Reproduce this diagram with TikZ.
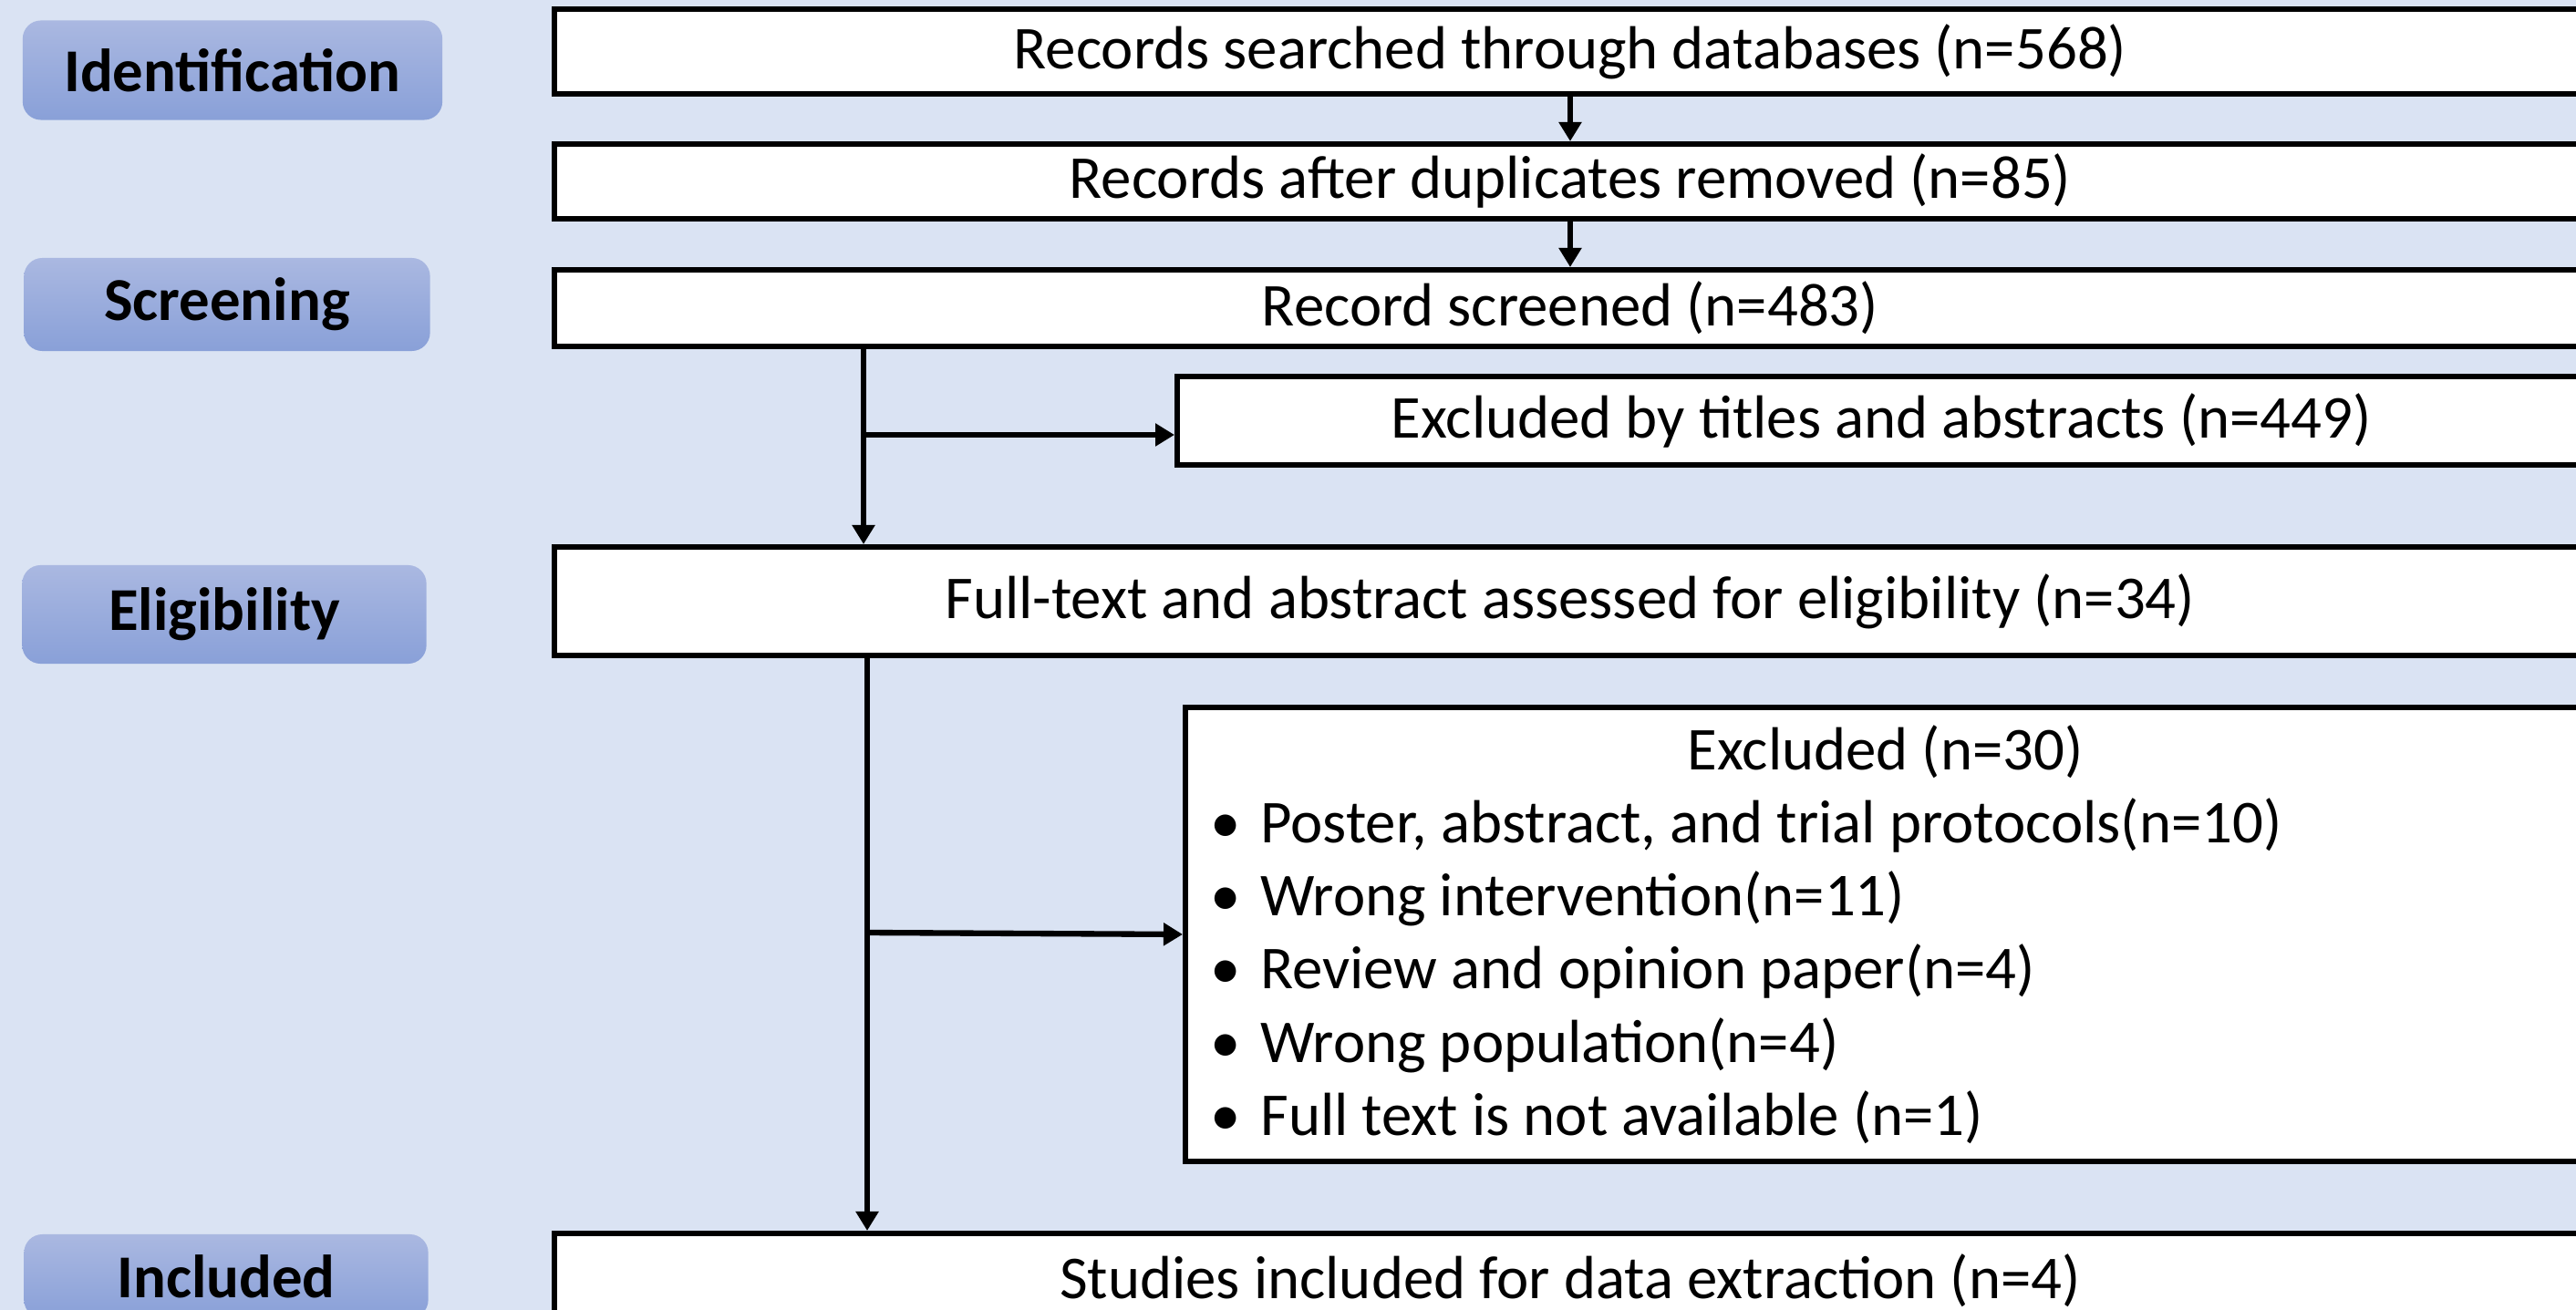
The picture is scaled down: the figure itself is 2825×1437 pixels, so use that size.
\documentclass[tikz,border=0pt]{standalone}
\usepackage{fontspec}
\setmainfont{Carlito}
\usetikzlibrary{arrows.meta,positioning}
\definecolor{bgblue}{RGB}{218,227,243}
\definecolor{tagtop}{RGB}{170,184,225}
\definecolor{tagbot}{RGB}{137,160,216}
\begin{document}
\begin{tikzpicture}[x=0.01cm, y=-0.01cm,
  box/.style={draw, line width=1.6pt, fill=white, inner sep=0pt, anchor=north west, minimum width=22.27cm, font=\fontsize{19}{22.8}\selectfont},
  tag/.style={rounded corners=0.2cm, top color=tagtop, bottom color=tagbot, minimum width=4.45cm, font=\fontsize{19}{22}\selectfont\bfseries},
  arr/.style={line width=1.8pt, -{Stealth[length=0.21cm, width=0.24cm, inset=0pt]}}]
  \useasboundingbox (0,0) rectangle (2825,1437);
  \clip (0,0) rectangle (2825,1437);
  \fill[bgblue] (0,0) rectangle (2825,1437);
  \node[tag, minimum width=4.6cm, minimum height=1.09cm] (ident) at (255,77) {Identification};
  \node[tag, minimum height=1.02cm] (screen) at (249,334) {Screening};
  \node[tag, minimum width=4.43cm, minimum height=1.08cm] (elig) at (246,674) {Eligibility};
  \node[tag, minimum width=4.43cm, minimum height=0.92cm] (incl) at (248,1400) {Included};
  \node[box, minimum height=0.93cm] (rec) at (605,7) {Records searched through databases (n=568)};
  \node[box, minimum height=0.82cm] (dup) at (605,155) {Records after duplicates removed (n=85)};
  \node[box, minimum height=0.84cm] (scr) at (605,293) {Record screened (n=483)};
  \node[box, minimum width=15.44cm, minimum height=0.97cm] (exc1) at (1288,410) {Excluded by titles and abstracts (n=449)};
  \node[box, minimum height=1.19cm] (full) at (605,597) {Full-text and abstract assessed for eligibility (n=34)};
  \node[box, minimum width=15.35cm, minimum height=4.98cm, align=left] (exc2) at (1297,773)
    {\makebox[14.8cm]{Excluded (n=30)}\\
     \makebox[0.55cm][l]{•}Poster, abstract, and trial protocols(n=10)\\
     \makebox[0.55cm][l]{•}Wrong intervention(n=11)\\
     \makebox[0.55cm][l]{•}Review and opinion paper(n=4)\\
     \makebox[0.55cm][l]{•}Wrong population(n=4)\\
     \makebox[0.55cm][l]{•}Full text is not available (n=1)};
  \node[box, minimum height=1.04cm] (inc) at (605,1350) {Studies included for data extraction (n=4)};
  \coordinate (sx) at (947,477);
  \coordinate (ex) at (951,1023);
  \draw[arr] (rec) -- (dup);
  \draw[arr] (dup) -- (scr);
  \draw[arr] (scr.south -| sx) -- (full.north -| sx);
  \draw[arr] (sx) -- (sx -| exc1.west);
  \draw[arr] (full.south -| ex) -- (inc.north -| ex);
  \draw[arr] (ex) -- (exc2.west);
\end{tikzpicture}
\end{document}
